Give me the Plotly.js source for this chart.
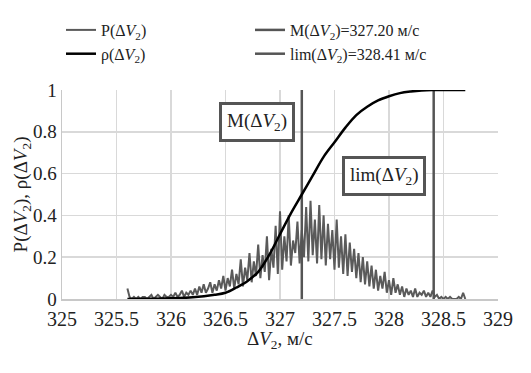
<!DOCTYPE html>
<html>
<head>
<meta charset="utf-8">
<script src="https://cdn.plot.ly/plotly-3.0.1.min.js"></script>
<style>html,body{margin:0;padding:0;background:#fff;}#chart{width:531px;height:373px;}</style>
</head>
<body>
<div id="chart"></div>
<script>
// P(ΔV2): noisy distribution, sampled every 0.02 m/s starting at 325.60
var pStart = 325.60;
var pStep = 0.02;
var pValues = [
  0.05, 0.01, 0.00, 0.01, 0.00, 0.01, 0.00, 0.01, 0.01, 0.00,
  0.01, 0.02, 0.00, 0.01, 0.02, 0.01, 0.00, 0.02, 0.01, 0.01,
  0.02, 0.01, 0.03, 0.01, 0.02, 0.04, 0.01, 0.03, 0.02, 0.04,
  0.02, 0.05, 0.02, 0.06, 0.03, 0.07, 0.03, 0.05, 0.08, 0.03,
  0.07, 0.04, 0.09, 0.05, 0.11, 0.04, 0.10, 0.06, 0.14, 0.05,
  0.12, 0.07, 0.19, 0.06, 0.15, 0.09, 0.22, 0.08, 0.18, 0.11,
  0.26, 0.10, 0.21, 0.13, 0.30, 0.09, 0.24, 0.15, 0.35, 0.12,
  0.42, 0.14, 0.30, 0.18, 0.40, 0.16, 0.28, 0.22, 0.37, 0.17,
  0.33, 0.20, 0.44, 0.18, 0.47, 0.21, 0.38, 0.17, 0.45, 0.19,
  0.40, 0.16, 0.36, 0.19, 0.33, 0.14, 0.38, 0.15, 0.30, 0.12,
  0.31, 0.11, 0.27, 0.13, 0.24, 0.10, 0.22, 0.08, 0.20, 0.07,
  0.18, 0.06, 0.16, 0.05, 0.14, 0.04, 0.11, 0.05, 0.13, 0.03,
  0.09, 0.02, 0.10, 0.03, 0.07, 0.02, 0.06, 0.01, 0.05, 0.02,
  0.04, 0.01, 0.05, 0.01, 0.03, 0.02, 0.04, 0.01, 0.03, 0.01,
  0.04, 0.01, 0.02, 0.00, 0.01, 0.00, 0.01, 0.00, 0.01, 0.00,
  0.00, 0.00, 0.01, 0.00, 0.03, 0.00
];

// ρ(ΔV2): cumulative distribution
var cdfX = [325.6, 325.8, 326.0, 326.2, 326.4, 326.5, 326.6, 326.7, 326.8, 326.9,
            327.0, 327.1, 327.2, 327.3, 327.4, 327.5, 327.6, 327.7, 327.8, 327.9,
            328.0, 328.1, 328.2, 328.3, 328.4, 328.7];
var cdfY = [0, 0.001, 0.003, 0.008, 0.02, 0.03, 0.055, 0.085, 0.13, 0.21,
            0.31, 0.41, 0.50, 0.59, 0.68, 0.75, 0.82, 0.88, 0.92, 0.95,
            0.97, 0.985, 0.993, 0.998, 1.0, 1.0];

var meanValue = 327.20;
var limValue = 328.41;
var vLineY = [0, 1];

var xTickVals = [325, 325.5, 326, 326.5, 327, 327.5, 328, 328.5, 329];
var xTickText = ['325', '325.5', '326', '326.5', '327', '327.5', '328', '328.5', '329'];
var yTickVals = [0, 0.2, 0.4, 0.6, 0.8, 1];
var yTickText = ['0', '0.2', '0.4', '0.6', '0.8', '1'];

var V2 = 'Δ<i>V</i><sub>2</sub>';
var xTitle = V2 + ', м/с';
var yTitle = 'P(' + V2 + '), ρ(' + V2 + ')';
var FONT = "'Liberation Serif', 'DejaVu Serif', serif";
var TXT = '#222222';

var traces = [
  {x0: pStart, dx: pStep, y: pValues, type: 'scatter', mode: 'lines',
   name: 'P(' + V2 + ')', line: {color: '#5a5a5a', width: 2}, legend: 'legend'},
  {x: [meanValue, meanValue], y: vLineY, type: 'scatter', mode: 'lines',
   name: 'M(' + V2 + ')=' + meanValue.toFixed(2) + ' м/с', line: {color: '#555555', width: 2.5}, legend: 'legend2'},
  {x: [limValue, limValue], y: vLineY, type: 'scatter', mode: 'lines',
   name: 'lim(' + V2 + ')=' + limValue.toFixed(2) + ' м/с', line: {color: '#555555', width: 2.5}, legend: 'legend2'},
  {x: cdfX, y: cdfY, type: 'scatter', mode: 'lines',
   name: 'ρ(' + V2 + ')', line: {color: '#000000', width: 2.5, shape: 'spline'}, legend: 'legend'}
];

var layout = {
  width: 531, height: 373,
  margin: {l: 62, r: 33, t: 90, b: 74, autoexpand: false},
  paper_bgcolor: '#ffffff', plot_bgcolor: '#ffffff',
  font: {family: FONT, size: 19, color: TXT},
  showlegend: true,
  legend: {xref: 'container', yref: 'container', x: 61/531, y: 1 - 13/373,
           xanchor: 'left', yanchor: 'top', bgcolor: 'rgba(0,0,0,0)',
           font: {family: FONT, size: 16, color: TXT}, tracegroupgap: 0},
  legend2: {xref: 'container', yref: 'container', x: 250/531, y: 1 - 13/373,
            xanchor: 'left', yanchor: 'top', bgcolor: 'rgba(0,0,0,0)',
            font: {family: FONT, size: 16, color: TXT}, tracegroupgap: 0},
  xaxis: {range: [325, 329], tickvals: xTickVals, ticktext: xTickText,
          showgrid: true, gridcolor: '#d9d9d9', gridwidth: 1.5,
          showline: true, linecolor: '#c8c8c8', linewidth: 1.5,
          zeroline: false, ticks: '', fixedrange: true, ticklabelstandoff: 1,
          tickfont: {family: FONT, size: 20, color: TXT}},
  yaxis: {range: [0, 1], tickvals: yTickVals, ticktext: yTickText,
          showgrid: true, gridcolor: '#d9d9d9', gridwidth: 1.5,
          showline: true, linecolor: '#c8c8c8', linewidth: 1.5,
          zeroline: false, ticks: '', fixedrange: true,
          tickfont: {family: FONT, size: 19, color: TXT}},
  annotations: [
    {x: 0.5, y: -0.196, xref: 'paper', yref: 'paper', text: xTitle, showarrow: false,
     xanchor: 'center', yanchor: 'middle', font: {family: FONT, size: 19, color: TXT}},
    {x: -0.092, y: 0.5, xref: 'paper', yref: 'paper', text: yTitle, showarrow: false,
     textangle: -90, xanchor: 'center', yanchor: 'middle', font: {family: FONT, size: 19, color: TXT}},
    {x: 326.79, y: 0.847, xref: 'x', yref: 'y', text: 'M(' + V2 + ')', showarrow: false,
     font: {family: FONT, size: 19, color: TXT}, bgcolor: '#ffffff',
     bordercolor: '#555555', borderwidth: 3, borderpad: 5},
    {x: 327.95, y: 0.589, xref: 'x', yref: 'y', text: 'lim(' + V2 + ')', showarrow: false,
     font: {family: FONT, size: 19, color: TXT}, bgcolor: '#ffffff',
     bordercolor: '#555555', borderwidth: 3, borderpad: 5}
  ]
};

Plotly.newPlot('chart', traces, layout, {displayModeBar: false, staticPlot: true});
</script>
</body>
</html>
